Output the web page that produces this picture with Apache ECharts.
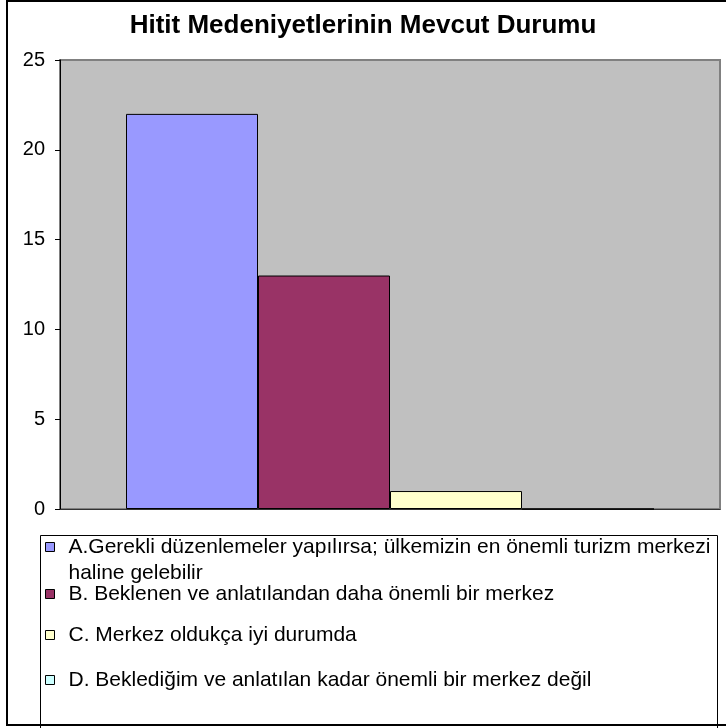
<!DOCTYPE html>
<html>
<head>
<meta charset="utf-8">
<script src="https://cdn.jsdelivr.net/npm/echarts@6/dist/echarts.min.js"></script>
<style>
html,body{margin:0;padding:0;background:#fff;}
#c{width:726px;height:728px;}
</style>
</head>
<body>
<div id="c"></div>
<script>
var titleText = 'Hitit Medeniyetlerinin Mevcut Durumu';
var categories = [''];
var seriesNames = [
  'A.Gerekli düzenlemeler yapılırsa; ülkemizin en önemli turizm merkezi haline gelebilir',
  'B. Beklenen ve anlatılandan daha önemli bir merkez',
  'C. Merkez oldukça iyi durumda',
  'D. Beklediğim ve anlatılan kadar önemli bir merkez değil'
];
var legendLines = [
  '\nA.Gerekli düzenlemeler yapılırsa; ülkemizin en önemli turizm merkezi\nhaline gelebilir',
  'B. Beklenen ve anlatılandan daha önemli bir merkez',
  'C. Merkez oldukça iyi durumda',
  'D. Beklediğim ve anlatılan kadar önemli bir merkez değil'
];
var seriesValues = [[22], [13], [1], [0]];
var seriesColors = ['#9999FF', '#993366', '#FFFFCC', '#CCFFFF'];
var yTicks = [0, 5, 10, 15, 20, 25];

var FONT = 'Liberation Sans, Arial, sans-serif';
var chart = echarts.init(document.getElementById('c'));

var series = seriesNames.map(function (n, i) {
  return {
    name: n,
    type: 'bar',
    data: seriesValues[i],
    barGap: '0%',
    barCategoryGap: '20%',
    itemStyle: { color: seriesColors[i], borderColor: '#000', borderWidth: 1 },
    emphasis: { disabled: true },
    animation: false
  };
});

var legendTops = [508, 583, 624, 669];
var legends = seriesNames.map(function (n, i) {
  var first = i === 0;
  return {
    data: [n],
    left: 45,
    top: legendTops[i],
    orient: 'vertical',
    padding: 0,
    itemWidth: 9,
    itemHeight: 9,
    icon: 'rect',
    selectedMode: false,
    itemStyle: { borderColor: '#000', borderWidth: 1 },
    formatter: function () { return legendLines[i]; },
    textStyle: {
      fontFamily: FONT,
      fontSize: 21,
      color: '#000',
      lineHeight: first ? 26 : 22,
      padding: [0, 0, 0, 9]
    }
  };
});

chart.setOption({
  animation: false,
  backgroundColor: '#fff',
  title: {
    text: titleText,
    left: 'center',
    top: 8,
    textStyle: { fontFamily: FONT, fontSize: 26, fontWeight: 'bold', color: '#000' }
  },
  legend: legends,
  grid: {
    left: 60, top: 60, right: 6, bottom: 219,
    show: true,
    backgroundColor: '#C0C0C0',
    borderColor: '#808080',
    borderWidth: 2
  },
  xAxis: {
    type: 'category',
    data: categories,
    axisLine: { show: true, lineStyle: { color: '#333', width: 1 } },
    axisTick: { show: false },
    axisLabel: { show: false },
    splitLine: { show: false }
  },
  yAxis: {
    type: 'value',
    min: yTicks[0],
    max: yTicks[yTicks.length - 1],
    interval: 5,
    axisLine: { show: true, lineStyle: { color: '#000', width: 1 } },
    axisTick: { show: true, length: 5, inside: false, lineStyle: { color: '#000' } },
    axisLabel: { fontFamily: FONT, fontSize: 20, color: '#000', margin: 15 },
    splitLine: { show: false }
  },
  series: series,
  graphic: [
    {
      type: 'rect',
      shape: { x: 40.5, y: 535.5, width: 677, height: 220 },
      style: { fill: 'none', stroke: '#000', lineWidth: 1 },
      silent: true,
      z: -1
    },
    {
      type: 'rect',
      shape: { x: 7, y: 1, width: 760, height: 724 },
      style: { fill: 'none', stroke: '#000', lineWidth: 2 },
      silent: true,
      z: 10
    }
  ]
});
</script>
</body>
</html>
